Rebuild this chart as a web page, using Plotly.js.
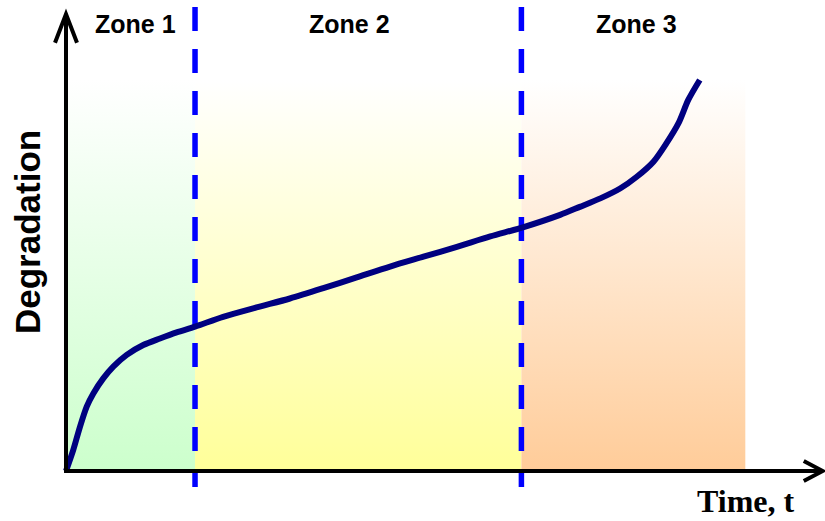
<!DOCTYPE html>
<html>
<head>
<meta charset="utf-8">
<script src="https://cdn.plot.ly/plotly-3.0.1.min.js"></script>
<style>html,body{margin:0;padding:0;background:#fff;}#chart{width:825px;height:521px;}</style>
</head>
<body>
<div id="chart"></div>
<script>
// Degradation curve (time, degradation)
const time = [0, 0.96, 1.84, 2.73, 3.6, 4.91, 6.23, 8.0, 10.18, 12.38, 14.58, 17.0, 20.7, 25.1, 29.5, 33.9, 38.3, 42.7, 47.1, 51.5, 55.9, 60.3, 65.1, 67.7, 70.4, 73.0, 75.2, 77.4, 79.1, 80.7, 82.0, 83.5];
const degradation = [0, 4.5, 9.4, 13.7, 16.5, 19.7, 22.2, 24.7, 26.8, 28.2, 29.5, 30.7, 32.8, 34.8, 36.7, 38.9, 41.2, 43.5, 45.6, 47.7, 49.9, 51.9, 54.5, 56.2, 58.0, 60.1, 62.6, 65.8, 69.7, 74.0, 79.0, 83.2];

// Zones
const zoneNames = ["Zone 1", "Zone 2", "Zone 3"];
const zoneStart = [0, 17.0, 60.0];
const zoneEnd = [17.0, 60.0, 89.5];
const zoneLabelX = [9.2, 37.3, 75.2];
const zoneColors = ["#ccffcc", "#ffff99", "#ffcc99"];
const zoneTop = 83.2;
const boundaries = [17.0, 60.0];

const xTitle = "Time, t";
const yTitle = "Degradation";

const traces = [];
for (let i = 0; i < zoneNames.length; i++) {
  traces.push({
    type: "scatter", mode: "lines",
    x: [zoneStart[i], zoneEnd[i], zoneEnd[i], zoneStart[i], zoneStart[i]],
    y: [0, 0, zoneTop, zoneTop, 0],
    fill: "toself",
    fillgradient: {type: "vertical", start: 0, stop: zoneTop,
      colorscale: [[0, zoneColors[i]], [1, "#ffffff"]]},
    line: {width: 0}, hoverinfo: "skip", showlegend: false
  });
}
// dashed zone boundaries
boundaries.forEach(b => {
  traces.push({
    type: "scatter", mode: "lines",
    x: [b, b], y: [98.7, -3.4],
    line: {color: "#0000ff", width: 5.5, dash: "24px,18px"},
    hoverinfo: "skip", showlegend: false
  });
});
// curve
traces.push({
  type: "scatter", mode: "lines",
  x: time, y: degradation,
  line: {color: "#000080", width: 6, shape: "spline", smoothing: 0.8},
  hoverinfo: "skip", showlegend: false
});

const shapes = [
  // y axis with arrow
  {type: "line", xref: "x", yref: "y", x0: 0, y0: -0.4, x1: 0, y1: 97.0, line: {color: "#000", width: 4}},
  {type: "path", xref: "x", yref: "y", path: "M -1.45 91.1 L 0 97.2 L 1.45 91.1", line: {color: "#000", width: 4}},
  // x axis with arrow
  {type: "line", xref: "x", yref: "y", x0: -0.25, y0: 0, x1: 99.5, y1: 0, line: {color: "#000", width: 4}},
  {type: "path", xref: "x", yref: "y", path: "M 97.2 2.13 L 99.7 0 L 97.2 -2.13", line: {color: "#000", width: 4}}
];

const annotations = zoneNames.map((z, i) => ({
  x: zoneLabelX[i], y: 95.1, xref: "x", yref: "y", text: z, showarrow: false,
  font: {family: "Liberation Sans, Arial, sans-serif", size: 25, color: "#000", weight: "bold"},
  xanchor: "center", yanchor: "middle"
}));
annotations.push({
  x: -5.1, y: 50.9, xref: "x", yref: "y", text: yTitle, showarrow: false, textangle: -90,
  font: {family: "Liberation Sans, Arial, sans-serif", size: 35, color: "#000", weight: "bold"},
  xanchor: "center", yanchor: "middle"
});
annotations.push({
  x: 89.6, y: -6.4, xref: "x", yref: "y", text: xTitle, showarrow: false,
  font: {family: "Liberation Serif, Times New Roman, serif", size: 32, color: "#000", weight: "bold"},
  xanchor: "center", yanchor: "middle"
});

const layout = {
  width: 825, height: 521,
  margin: {l: 0, r: 0, t: 0, b: 0, pad: 0},
  paper_bgcolor: "#fff", plot_bgcolor: "#fff",
  xaxis: {range: [-8.696, 100.0], visible: false, fixedrange: true},
  yaxis: {range: [-10.64, 100.21], visible: false, fixedrange: true},
  shapes: shapes, annotations: annotations, showlegend: false
};
Plotly.newPlot("chart", traces, layout, {displayModeBar: false, staticPlot: true});
</script>
</body>
</html>
